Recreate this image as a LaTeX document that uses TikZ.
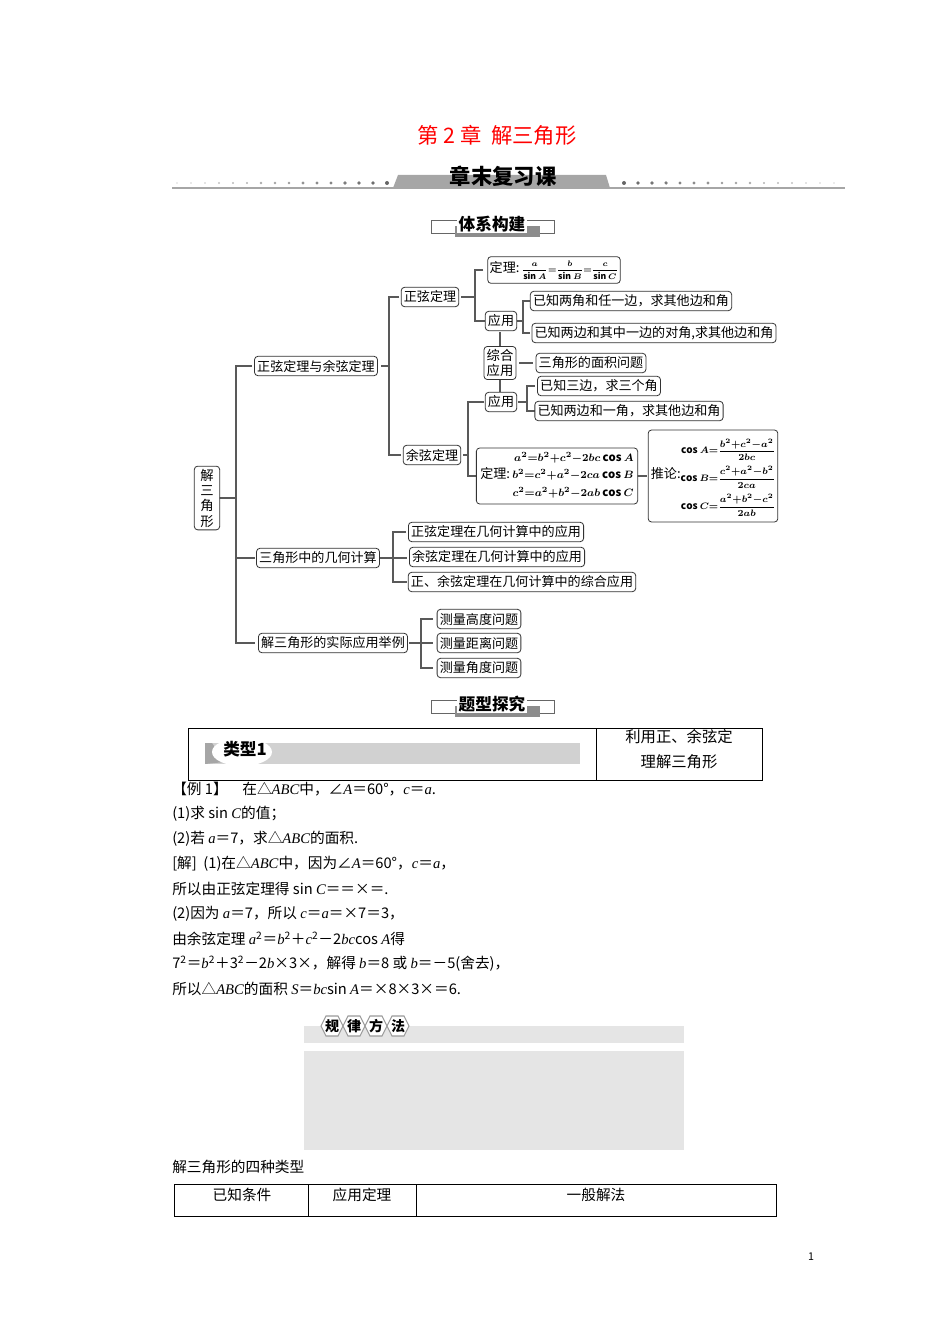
\documentclass[tikz,border=0pt]{standalone}
\usepackage{fontspec}
\setmainfont{Noto Sans CJK SC}
\newfontfamily\lat{Liberation Serif}
\newcommand{\iv}[1]{{\lat\itshape #1}}
\usepackage{amsmath}
\begin{document}
\begin{tikzpicture}[x=0.75pt,y=-0.75pt,
  bx/.style={draw=black!80,rounded corners=2.5pt,line width=0.6pt,inner sep=2pt,minimum height=14.5pt,font=\fontsize{9.8}{11.5}\selectfont,fill=white},
  ln/.style={draw=black!65,line width=0.8pt},
  body/.style={anchor=west,font=\fontsize{11}{13}\selectfont,inner sep=0pt}]
\useasboundingbox (0,0) rectangle (950,1344);
% title
\node[text=red,font=\fontsize{16}{18}\selectfont] (title) at (497,135) {第 2 章\ \ 解三角形};
% header bar
\draw[black!35,line width=1.2pt] (172,188) -- (845,188);
\fill[black!35] (393,188) -- (398,175) -- (606,175) -- (610,188) -- cycle;
\node[font=\fontsize{16}{18}\selectfont\bfseries] (hdr) at (503,176) {章末复习课};
\foreach \i in {0,...,15} {\fill[black!\the\numexpr 15+3*\i\relax] (177+14*\i,183) circle ({0.8+0.08*\i});}
\foreach \i in {0,...,15} {\fill[black!\the\numexpr 60-3*\i\relax] (624+14*\i,183) circle ({2-0.08*\i});}
% 体系构建
\draw[black!60,line width=0.6pt] (431,220) rectangle (554,233);
\fill[black!45] (455,226) rectangle (540,237);
\node[fill=white,inner sep=1pt,font=\fontsize{12.5}{14}\selectfont\bfseries] (tx) at (492,224) {体系构建};
% tree lines
\draw[ln] (217,498) -- (236,498);
\draw[ln] (252,366) -| (236,643) -- (255,643);
\draw[ln] (236,558) -- (255,558);
\draw[ln] (381,366) -- (389,366);
\draw[ln] (399,297) -| (389,455) -- (401,455);
\draw[ln] (461,297) -- (475,297);
\draw[ln] (483,270) -| (475,321) -- (485,321);
\draw[ln] (517,321) -- (523,321);
\draw[ln] (530,301) -| (523,333) -- (530,333);
\draw[ln] (500,332) -- (500,392);
\draw[ln] (519,363) -- (533,363);
\draw[ln] (463,455) -- (468,455);
\draw[ln] (484,402) -| (468,476) -- (483,476);
\draw[ln] (518,402) -- (527,402);
\draw[ln] (535,386) -| (527,411) -- (535,411);
\draw[ln] (632,476) -- (647,476);
\draw[ln] (380,558) -- (407,558);
\draw[ln] (406,532) -| (393,582) -- (407,582);
\draw[ln] (409,643) -- (433,643);
\draw[ln] (433,619) -| (421,668) -- (433,668);
% nodes
\node[bx,minimum width=19pt,text width=10pt,align=center,font=\fontsize{10}{11.5}\selectfont] (root) at (207,498) {解\\三\\角\\形};
\node[bx] (zy) at (316,366) {正弦定理与余弦定理};
\node[bx] (jh) at (318,558) {三角形中的几何计算};
\node[bx] (sj) at (333,643) {解三角形的实际应用举例};
\node[bx] (zx) at (430,297) {正弦定理};
\node[bx] (yx) at (432,455) {余弦定理};
\node[bx,font=\fontsize{9.8}{10}\selectfont\boldmath,minimum height=20pt,inner sep=1.5pt] (dl1) at (554,270) {定理:\,{\fontsize{6.5}{8}\selectfont$\dfrac{a}{\sin A}{=}\dfrac{b}{\sin B}{=}\dfrac{c}{\sin C}$}};
\node[bx] (yy1) at (501,321) {应用};
\node[bx] (a1) at (631,301) {已知两角和任一边，求其他边和角};
\node[bx] (a2) at (654,333) {已知两边和其中一边的对角,求其他边和角};
\node[bx,align=center,font=\fontsize{10}{11.5}\selectfont] (zh) at (500,363) {综合\\应用};
\node[bx] (mj) at (591,363) {三角形的面积问题};
\node[bx] (yy2) at (501,402) {应用};
\node[bx] (b1) at (599,386) {已知三边，求三个角};
\node[bx] (b2) at (629,411) {已知两边和一角，求其他边和角};
\node[bx,font=\fontsize{9.8}{11}\selectfont\boldmath,inner sep=3pt] (dl2) at (557,476) {定理:\,{\fontsize{8.5}{10}\selectfont\begin{tabular}{@{}r@{}}$a^2{=}b^2{+}c^2{-}2bc\cos A$\\[3pt]$b^2{=}c^2{+}a^2{-}2ca\cos B$\\[3pt]$c^2{=}a^2{+}b^2{-}2ab\cos C$\end{tabular}}};
\node[bx,font=\fontsize{9.8}{11}\selectfont\boldmath,minimum height=69pt,inner sep=2pt] (tl) at (713,476) {推论:{\fontsize{7.5}{9}\selectfont\renewcommand{\arraystretch}{2.3}\begin{tabular}{@{}r@{}}$\cos A{=}\dfrac{b^2{+}c^2{-}a^2}{2bc}$\\$\cos B{=}\dfrac{c^2{+}a^2{-}b^2}{2ca}$\\$\cos C{=}\dfrac{a^2{+}b^2{-}c^2}{2ab}$\end{tabular}}};
\node[bx] (c1) at (496,532) {正弦定理在几何计算中的应用};
\node[bx] (c2) at (497,557) {余弦定理在几何计算中的应用};
\node[bx] (c3) at (522,582) {正、余弦定理在几何计算中的综合应用};
\node[bx] (d1) at (479,619) {测量高度问题};
\node[bx] (d2) at (479,643) {测量距离问题};
\node[bx] (d3) at (479,668) {测量角度问题};
% 题型探究
\draw[black!60,line width=0.6pt] (431,700) rectangle (554,713);
\fill[black!45] (455,706) rectangle (540,717);
\node[fill=white,inner sep=1pt,font=\fontsize{12.5}{14}\selectfont\bfseries] (tx2) at (492,704) {题型探究};
% 类型1 table
\draw[line width=0.7pt] (188,728) rectangle (762,780);
\draw[line width=0.7pt] (596,728) -- (596,780);
\fill[black!18] (205,743) rectangle (580,764);
\fill[black!35] (205,743) -- (212,743) -- (225,762) -- (205,764) -- cycle;
\fill[white] (242,752) ellipse (30 and 14);
\node[font=\fontsize{12.5}{14}\selectfont\bfseries] (lx) at (245,749) {类型1};
\node[font=\fontsize{11.5}{13}\selectfont] (r1) at (679,737) {利用正、余弦定};
\node[font=\fontsize{11.5}{13}\selectfont] (r2) at (679,762) {理解三角形};
% example text
\node[body] (e1) at (172,789) {【例 1】\quad 在△\iv{ABC}中，∠\iv{A}＝60°，\iv{c}＝\iv{a}.};
\node[body] (e2) at (172,814) {(1)求 sin \iv{C}的值；};
\node[body] (e3) at (172,839) {(2)若 \iv{a}＝7，求△\iv{ABC}的面积.};
\node[body] (e4) at (172,864) {[解]\ \ (1)在△\iv{ABC}中，因为∠\iv{A}＝60°，\iv{c}＝\iv{a}，};
\node[body] (e5) at (172,889) {所以由正弦定理得 sin \iv{C}＝＝×＝.};
\node[body] (e6) at (172,914) {(2)因为 \iv{a}＝7，所以 \iv{c}＝\iv{a}＝×7＝3，};
\node[body] (e7) at (172,939) {由余弦定理 \iv{a}\textsuperscript{2}＝\iv{b}\textsuperscript{2}＋\iv{c}\textsuperscript{2}－2\iv{bc}cos \iv{A}得};
\node[body] (e8) at (172,964) {7\textsuperscript{2}＝\iv{b}\textsuperscript{2}＋3\textsuperscript{2}－2\iv{b}×3×，解得 \iv{b}＝8 或 \iv{b}＝－5(舍去)，};
\node[body] (e9) at (172,989) {所以△\iv{ABC}的面积 \iv{S}＝\iv{bc}sin \iv{A}＝×8×3×＝6.};
% 规律方法
\fill[black!10] (304,1026) rectangle (684,1043);
\foreach \c/\t [count=\k] in {0/规,1/律,2/方,3/法} {
  \draw[black!40,fill=white,line width=0.8pt] (332+22*\c,1026) +(-11,0) -- +(-6,-10) -- +(6,-10) -- +(11,0) -- +(6,10) -- +(-6,10) -- cycle;
  \node[font=\fontsize{10.5}{12}\selectfont\bfseries] (g\k) at (332+22*\c,1026) {\t};
}
\fill[black!10] (304,1051) rectangle (684,1150);
\node[body] (sub) at (172,1167) {解三角形的四种类型};
\draw[line width=0.7pt] (174,1184) rectangle (776,1216);
\draw[line width=0.7pt] (308,1184) -- (308,1216) (416,1184) -- (416,1216);
\node[font=\fontsize{11}{13}\selectfont] (h1) at (242,1195) {已知条件};
\node[font=\fontsize{11}{13}\selectfont] (h2) at (362,1195) {应用定理};
\node[font=\fontsize{11}{13}\selectfont] (h3) at (596,1195) {一般解法};
\node[font=\fontsize{8}{10}\selectfont] (pg) at (811,1257) {1};
\end{tikzpicture}
\end{document}
